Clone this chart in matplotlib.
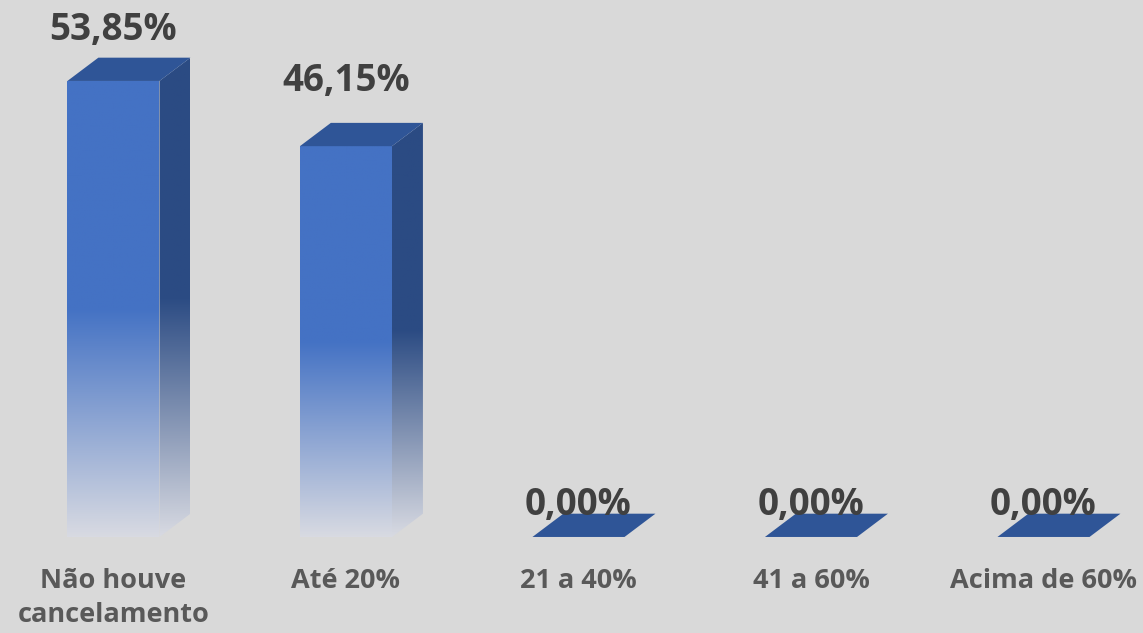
import numpy as np
import matplotlib.pyplot as plt
from matplotlib.patches import Polygon
from matplotlib.colors import to_rgb

categories = ['Não houve\ncancelamento', 'Até 20%', '21 a 40%', '41 a 60%', 'Acima de 60%']
values = [53.85, 46.15, 0.0, 0.0, 0.0]
value_labels = ['53,85%', '46,15%', '0,00%', '0,00%', '0,00%']

# style
BG = '#d9d9d9'
FRONT = '#4472c4'
SIDE = '#2b4b83'
TOP = '#2f5597'
FADE = '#d8dae2'
BAR_W = 0.396
DX = 0.133      # depth in category units
DY = 2.75       # depth in value units
LABEL_PAD = [41, 55, 22, 22, 22]   # pixels above front top

plt.rcParams['font.family'] = ['Open Sans', 'DejaVu Sans']


def gradient_img(top_col, bot_col, solid_frac=0.5, n=256):
    t = np.linspace(0, 1, n)  # 0 = bottom, 1 = top
    w = np.clip(t / (1 - solid_frac), 0, 1)
    a = np.array(to_rgb(bot_col))
    b = np.array(to_rgb(top_col))
    col = a[None, :] * (1 - w[:, None]) + b[None, :] * w[:, None]
    return col[:, None, :]


def main():
    fig = plt.figure(figsize=(11.43, 6.33), dpi=100)
    fig.patch.set_facecolor(BG)
    ax = fig.add_axes([0, 0, 1, 1])
    ax.set_facecolor(BG)
    ax.set_xlim(-0.488, 4.428)
    ax.set_ylim(-11.34, 63.41)
    ax.axis('off')

    for i, v in enumerate(values):
        x0 = i - BAR_W / 2
        x1 = i + BAR_W / 2
        if v > 0:
            # front face
            front = Polygon([(x0, 0), (x1, 0), (x1, v), (x0, v)], closed=True,
                            facecolor='none', edgecolor='none')
            ax.add_patch(front)
            im = ax.imshow(gradient_img(FRONT, FADE), origin='lower', aspect='auto',
                           extent=(x0, x1, 0, v), zorder=2)
            im.set_clip_path(front)
            # side face
            side = Polygon([(x1, 0), (x1 + DX, DY), (x1 + DX, v + DY), (x1, v)], closed=True,
                           facecolor='none', edgecolor='none')
            ax.add_patch(side)
            im2 = ax.imshow(gradient_img(SIDE, FADE, solid_frac=0.5), origin='lower', aspect='auto',
                            extent=(x1, x1 + DX, 0, v + DY), zorder=2)
            im2.set_clip_path(side)
        # top face
        top = Polygon([(x0, v), (x1, v), (x1 + DX, v + DY), (x0 + DX, v + DY)], closed=True,
                      facecolor=TOP, edgecolor='none', zorder=3)
        ax.add_patch(top)

        ax.annotate(value_labels[i], xy=(i, v), xytext=(0, LABEL_PAD[i]),
                    textcoords='offset pixels', ha='center', va='baseline',
                    fontsize=26.5, fontweight='bold', color='#404040', zorder=4)
        ax.annotate(categories[i], xy=(i, 0), xytext=(0, -31),
                    textcoords='offset pixels', ha='center', va='top',
                    fontsize=19.5, fontweight='bold', color='#595959',
                    linespacing=1.4)

    fig.savefig('out.png', dpi=100, facecolor=BG)


if __name__ == "__main__":
    main()
